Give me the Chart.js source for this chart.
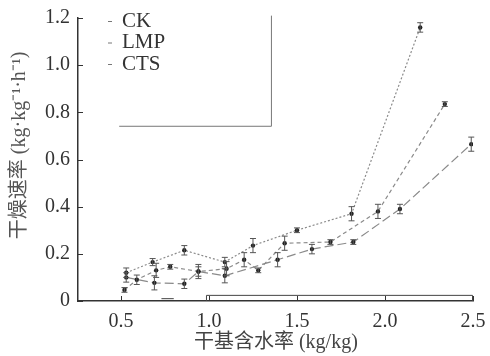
<!DOCTYPE html>
<html>
<head>
<meta charset="utf-8">
<script src="https://cdn.jsdelivr.net/npm/chart.js@4/dist/chart.umd.min.js"></script>
<style>
  html, body { margin: 0; padding: 0; background: #fff; }
  #caja { width: 490px; height: 356px; }
</style>
</head>
<body>
<div id="caja"><canvas id="grafico"></canvas></div>
<script>
// Datos (x = contenido de humedad, y = velocidad de secado)
const seriesNames = ['CK', 'LMP', 'CTS'];

const ckX = [0.53, 0.68, 0.86, 1.09, 1.25, 1.50, 1.81, 2.20];
const ckY = [0.12, 0.165, 0.215, 0.165, 0.235, 0.30, 0.37, 1.16];
const ckErr = [0.02, 0.015, 0.02, 0.02, 0.03, 0.01, 0.03, 0.02];

const lmpX = [0.52, 0.59, 0.70, 0.78, 0.94, 1.10, 1.20, 1.28, 1.43, 1.69, 1.96, 2.34];
const lmpY = [0.047, 0.09, 0.13, 0.145, 0.125, 0.137, 0.175, 0.13, 0.245, 0.25, 0.38, 0.835];
const lmpErr = [0.01, 0.02, 0.03, 0.01, 0.02, 0.03, 0.03, 0.01, 0.03, 0.01, 0.03, 0.01];

const ctsX = [0.53, 0.69, 0.86, 0.94, 1.09, 1.39, 1.585, 1.82, 2.085, 2.49];
const ctsY = [0.10, 0.077, 0.073, 0.125, 0.107, 0.175, 0.22, 0.25, 0.39, 0.665];
const ctsErr = [0.02, 0.03, 0.02, 0.03, 0.03, 0.03, 0.02, 0.01, 0.02, 0.03];

const xTicks = [0.5, 1.0, 1.5, 2.0, 2.5];
const yTicks = [0, 0.2, 0.4, 0.6, 0.8, 1.0, 1.2];

const tituloX = '干基含水率 (kg/kg)';
const tituloY = '干燥速率 (kg·kg⁻¹·h⁻¹)';

function puntos(xs, ys) {
    return xs.map(function (x, i) { return { x: x, y: ys[i] }; });
}

const errores = [ckErr, lmpErr, ctsErr];

const fuente = '"Liberation Serif", "Noto Sans CJK SC", serif';

//Barras de error dibujadas con las escalas del grafico
const barrasError = {
    id: 'barrasError',
    afterDatasetsDraw(chart) {
        const ctx = chart.ctx;
        const sx = chart.scales.x, sy = chart.scales.y;
        ctx.save();
        ctx.strokeStyle = '#555';
        ctx.lineWidth = 1;
        chart.data.datasets.forEach(function (ds, d) {
            ds.data.forEach(function (p, i) {
                const e = errores[d][i];
                const px = sx.getPixelForValue(p.x);
                const y1 = sy.getPixelForValue(p.y - e);
                const y2 = sy.getPixelForValue(p.y + e);
                ctx.beginPath();
                ctx.moveTo(px, y1); ctx.lineTo(px, y2);
                ctx.moveTo(px - 3, y1); ctx.lineTo(px + 3, y1);
                ctx.moveTo(px - 3, y2); ctx.lineTo(px + 3, y2);
                ctx.stroke();
            });
        });
        ctx.restore();
    }
};

//Leyenda dentro del area, marcas interiores, titulos de ejes y restos del recuadro original
const leyenda = {
    id: 'leyenda',
    afterDraw(chart) {
        const ctx = chart.ctx;
        const sx = chart.scales.x, sy = chart.scales.y;
        const area = chart.chartArea;
        ctx.save();
        ctx.lineWidth = 1;

        // marcas de los ejes hacia dentro
        ctx.strokeStyle = '#333';
        ctx.beginPath();
        yTicks.forEach(function (v) {
            const py = Math.round(sy.getPixelForValue(v)) + 0.5;
            ctx.moveTo(area.left, py); ctx.lineTo(area.left + 5, py);
        });
        xTicks.forEach(function (v) {
            const px = Math.round(sx.getPixelForValue(v)) + 0.5;
            ctx.moveTo(px, area.bottom); ctx.lineTo(px, area.bottom - 5);
        });
        ctx.stroke();

        // recuadro de la leyenda (solo lados derecho e inferior)
        ctx.strokeStyle = '#777';
        ctx.beginPath();
        ctx.moveTo(sx.getPixelForValue(0.49), sy.getPixelForValue(0.743) + 0.5);
        ctx.lineTo(sx.getPixelForValue(1.352) + 0.5, sy.getPixelForValue(0.743) + 0.5);
        ctx.lineTo(sx.getPixelForValue(1.352) + 0.5, sy.getPixelForValue(1.21));
        ctx.stroke();
        // doble linea sobre el eje x
        ctx.strokeStyle = '#444';
        ctx.beginPath();
        ctx.moveTo(sx.getPixelForValue(0.983) + 0.5, sy.getPixelForValue(0));
        ctx.lineTo(sx.getPixelForValue(0.983) + 0.5, sy.getPixelForValue(0.026) + 0.5);
        ctx.lineTo(sx.getPixelForValue(2.5) - 0.5, sy.getPixelForValue(0.026) + 0.5);
        ctx.lineTo(sx.getPixelForValue(2.5) - 0.5, sy.getPixelForValue(0));
        ctx.moveTo(sx.getPixelForValue(0.73), sy.getPixelForValue(0.012) + 0.5);
        ctx.lineTo(sx.getPixelForValue(0.80), sy.getPixelForValue(0.012) + 0.5);
        ctx.stroke();

        ctx.font = '21px "Liberation Serif"';
        ctx.textBaseline = 'middle';
        ctx.textAlign = 'left';
        ctx.fillStyle = '#333';
        const x0 = area.left + 30;
        seriesNames.forEach(function (n, i) {
            const y = area.top + 3 + i * 21.5;
            ctx.strokeStyle = '#777';
            ctx.beginPath();
            ctx.moveTo(x0, y + 0.5); ctx.lineTo(x0 + 4, y + 0.5);
            ctx.stroke();
            ctx.fillText(n, x0 + 14, y);
        });

        // titulos de los ejes
        ctx.font = '20px ' + fuente;
        ctx.fillStyle = '#444';
        ctx.textAlign = 'center';
        ctx.fillText(tituloX, sx.getPixelForValue(1.38), area.bottom + 42);
        ctx.translate(20, sy.getPixelForValue(0.66));
        ctx.rotate(-Math.PI / 2);
        ctx.fillStyle = '#555';
        ctx.fillText(tituloY, 0, 0);
        ctx.restore();
    }
};

function dataset(nombre, xs, ys, dash, color) {
    return {
        label: nombre,
        data: puntos(xs, ys),
        borderColor: color,
        borderWidth: 1.2,
        borderDash: dash,
        backgroundColor: '#222',
        pointBackgroundColor: '#222',
        pointBorderColor: '#222',
        pointBorderWidth: 0,
        pointRadius: 2.2,
        showLine: true,
        tension: 0
    };
}

new Chart(document.getElementById('grafico').getContext('2d'), {
    type: 'scatter',
    data: {
        datasets: [
            dataset(seriesNames[0], ckX, ckY, [2, 2], '#8a8a8a'),
            dataset(seriesNames[1], lmpX, lmpY, [4, 3], '#8a8a8a'),
            dataset(seriesNames[2], ctsX, ctsY, [9, 4], '#8a8a8a')
        ]
    },
    options: {
        responsive: true,
        maintainAspectRatio: false,
        animation: false,
        layout: { padding: { top: 18, right: 17, left: 4, bottom: 4 } },
        plugins: { legend: { display: false }, tooltip: { enabled: false } },
        scales: {
            x: {
                type: 'linear',
                min: 0.256,
                max: 2.5,
                afterBuildTicks: function (s) { s.ticks = xTicks.map(function (v) { return { value: v }; }); },
                ticks: {
                    color: '#333',
                    font: { family: fuente, size: 20 },
                    padding: 9,
                    maxRotation: 0,
                    callback: function (v) { return v.toFixed(1); }
                },
                grid: { drawOnChartArea: false, drawTicks: false, tickLength: 0 },
                border: { color: '#333', width: 1.5 },
                afterFit: function (s) { s.height = 51; s.paddingRight = 0; s.paddingLeft = 0; }
            },
            y: {
                min: 0,
                max: 1.2,
                afterBuildTicks: function (s) { s.ticks = yTicks.map(function (v) { return { value: v }; }); },
                ticks: {
                    color: '#333',
                    font: { family: fuente, size: 20 },
                    padding: 8,
                    callback: function (v) { return v === 0 ? '0' : v.toFixed(1); }
                },
                grid: { drawOnChartArea: false, drawTicks: false, tickLength: 0 },
                border: { color: '#333', width: 1.5 },
                afterFit: function (s) { s.width = 74; s.paddingTop = 0; s.paddingBottom = 0; }
            }
        }
    },
    plugins: [barrasError, leyenda]
});
</script>
</body>
</html>
